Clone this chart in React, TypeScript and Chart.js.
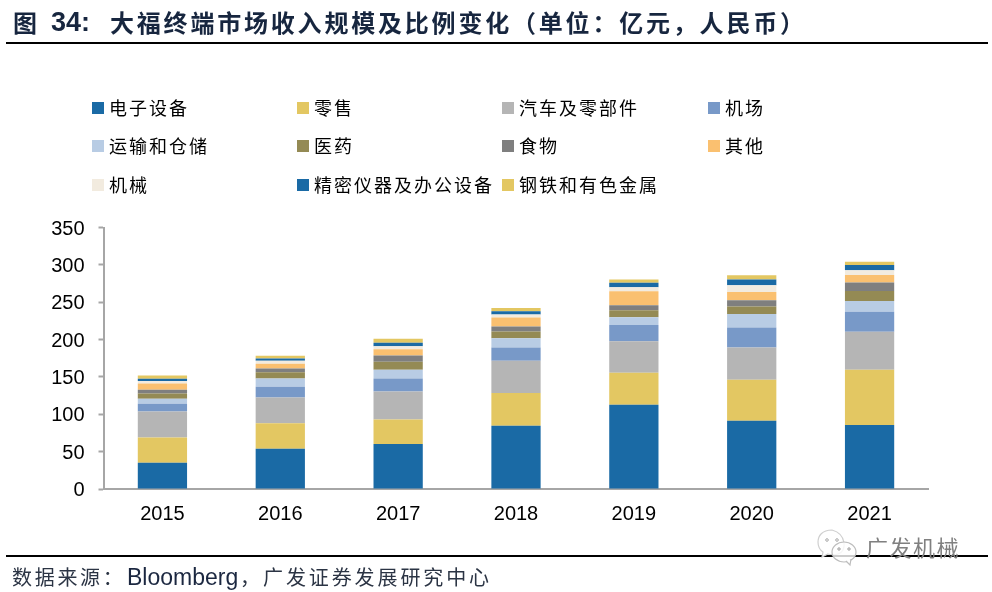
import React, { useEffect, useRef } from "react";
import { Chart, registerables } from "chart.js";

Chart.register(...registerables);

const years = ["2015", "2016", "2017", "2018", "2019", "2020", "2021"];
const electronics = [35.3, 54, 60.3, 84.5, 112.6, 91.2, 85.8];
const retail = [33.5, 34, 32.6, 44, 43, 55, 73.8];
const auto = [34.9, 34.4, 37.5, 43, 42, 43.3, 51];
const airport = [10.3, 14.3, 17.4, 17.8, 22, 26.8, 26.8];
const transport = [6.7, 11.1, 11.7, 12.6, 10.2, 18, 14.2];
const pharma = [7.1, 8.6, 10.7, 8.9, 9.4, 9.8, 13.4];
const food = [5, 4.8, 8.4, 6.7, 6.7, 8.4, 11.3];
const other = [8.4, 6.3, 8.6, 12, 18.8, 11.3, 10.2];
const machinery = [3.2, 4, 4, 4, 5.4, 8.9, 6.3];
const precision = [3, 3, 4.4, 4.5, 5.9, 7.6, 7.1];
const metals = [4.4, 4, 5.4, 4.4, 4.4, 5.8, 4.2];

const seriesNames = ["电子设备", "零售", "汽车及零部件", "机场", "运输和仓储", "医药", "食物", "其他", "机械", "精密仪器及办公设备", "钢铁和有色金属"];
const seriesValues = [electronics, retail, auto, airport, transport, pharma, food, other, machinery, precision, metals];
const seriesColors = ["#1A6AA5", "#E3C762", "#B5B5B5", "#7899C8", "#B8CCE4", "#948A54", "#7F7F7F", "#FAC070", "#F2EBDF", "#1A6AA5", "#E3C762"];

const CJK = '"Noto Sans CJK SC", sans-serif';
const LATIN = '"Liberation Sans", Arial, sans-serif';
const legendX = [92, 297, 502, 708];
const legendY = [108, 146, 185];

const abs = (left: number, top: number, extra: React.CSSProperties = {}): React.CSSProperties => ({
  position: "absolute",
  left,
  top,
  whiteSpace: "nowrap",
  ...extra,
});

export default function App() {
  const ref = useRef<HTMLCanvasElement>(null);
  useEffect(() => {
    if (!ref.current) return;
    const chart = new Chart(ref.current, {
      type: "bar",
      data: {
        labels: years,
        datasets: seriesNames.map((name, i) => ({
          label: name,
          data: seriesValues[i],
          backgroundColor: seriesColors[i],
          borderWidth: 0,
          barPercentage: 1,
          categoryPercentage: 0.418,
        })),
      },
      options: {
        animation: false,
        responsive: false,
        layout: { padding: { top: 227.5, right: 63.5, left: 0, bottom: 0 } },
        plugins: { legend: { display: false }, title: { display: false }, tooltip: { enabled: false } },
        scales: {
          x: {
            stacked: true,
            grid: { display: false, drawTicks: false },
            border: { color: "#A6A6A6", width: 2 },
            ticks: { color: "#000", font: { family: LATIN, size: 20 }, padding: 13 },
            afterFit: (s: any) => { s.height = 103; },
          },
          y: {
            stacked: true,
            min: 0,
            max: 350,
            grid: { display: true, drawOnChartArea: false, drawTicks: true, tickLength: 5, tickColor: "#A6A6A6", tickWidth: 2 } as any,
            border: { color: "#A6A6A6", width: 2 },
            ticks: { stepSize: 50, color: "#000", font: { family: LATIN, size: 20 }, padding: 14, labelOffset: 1.5 } as any,
            afterFit: (s: any) => { s.width = 103.5; },
          },
        },
      },
    });
    return () => chart.destroy();
  }, []);

  const title = "大福终端市场收入规模及比例变化\uFF08单位\uFF1A亿元\uFF0C人民币\uFF09";
  return (
    <div style={{ position: "fixed", left: 0, top: 0, width: 992, height: 592, background: "#fff", overflow: "hidden" }}>
      <canvas ref={ref} width={992} height={592} style={{ position: "absolute", left: 0, top: 0, width: 992, height: 592 }} />

      <div style={abs(13, 5, { font: `bold 24px ${CJK}`, color: "#17263F", lineHeight: "34px" })}>图</div>
      <div style={abs(51, 5, { font: `bold 27px ${LATIN}`, color: "#17263F", lineHeight: "34px" })}>34:</div>
      <div style={abs(110, 5, { font: `bold 24px ${CJK}`, color: "#17263F", letterSpacing: 2.8, lineHeight: "34px" })}>{title}</div>
      <div style={{ position: "absolute", left: 6, top: 42, width: 982, height: 2, background: "#000" }} />

      {seriesNames.map((name, i) => {
        const col = i % 4;
        const row = Math.floor(i / 4);
        return (
          <React.Fragment key={name}>
            <div style={{ position: "absolute", left: legendX[col], top: legendY[row] - 6, width: 12, height: 12, background: seriesColors[i] }} />
            <div style={abs(legendX[col] + 17, legendY[row] - 15, { font: `18px ${CJK}`, letterSpacing: 2, color: "#000", lineHeight: "28px" })}>{name}</div>
          </React.Fragment>
        );
      })}

      <div style={{ position: "absolute", left: 6, top: 555, width: 982, height: 2, background: "#000" }} />
      <div style={abs(12, 562, { font: `20px ${CJK}`, letterSpacing: 2.7, color: "#2B3444", lineHeight: "30px" })}>{"数据来源\uFF1A"}</div>
      <div style={abs(127, 562, { font: `23px ${LATIN}`, color: "#1B2740", lineHeight: "30px" })}>Bloomberg</div>
      <div style={abs(240, 562, { font: `20px ${CJK}`, color: "#2B3444", lineHeight: "30px" })}>{"\uFF0C"}</div>
      <div style={abs(263, 562, { font: `20px ${CJK}`, letterSpacing: 2.9, color: "#2B3444", lineHeight: "30px" })}>广发证券发展研究中心</div>

      <svg width={50} height={44} style={{ position: "absolute", left: 814, top: 526 }}>
        <path d="M18 4 C8 4 4 10 4 16 C4 21 6 24 9 26 L8 31 L14 28 C17 29 20 29 24 28 C33 26 33 8 18 4 Z" fill="#fff" stroke="#CFCFCF" strokeWidth="1.2" />
        <circle cx="13" cy="14" r="1.3" fill="none" stroke="#AAA" />
        <circle cx="23" cy="14" r="1.3" fill="none" stroke="#AAA" />
        <ellipse cx="30" cy="26" rx="12" ry="10" fill="rgba(255,255,255,0.8)" stroke="#BDBDBD" strokeWidth="1.2" />
        <path d="M32 35 L36 39 L37 33" fill="#fff" stroke="#BDBDBD" strokeWidth="1.2" />
        <circle cx="25" cy="23" r="1.2" fill="none" stroke="#999" />
        <circle cx="35" cy="23" r="1.2" fill="none" stroke="#999" />
      </svg>
      <div style={abs(866, 530, { font: `22px ${CJK}`, letterSpacing: 1.5, color: "#808080", lineHeight: "32px" })}>广发机械</div>
    </div>
  );
}
